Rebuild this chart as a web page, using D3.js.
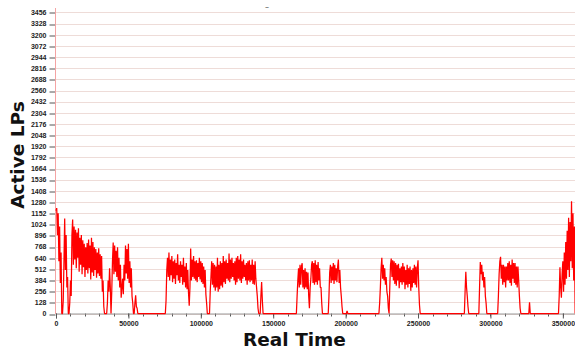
<!DOCTYPE html>
<html>
<head>
<meta charset="utf-8">
<script src="https://cdn.jsdelivr.net/npm/d3@7/dist/d3.min.js"></script>
<style>
  body { margin: 0; background: #fff; }
  svg { display: block; }
</style>
</head>
<body>
<svg id="chart" width="575" height="350"></svg>
<script>
// sample spacing of the series (real time units)
const step = 500;

// each burst of activity: start time and sampled active LP counts
const burstStart = [0, 35000, 75000, 166000, 188000, 200500, 222000, 282000, 292000, 305000, 326500, 347000];
const burstValues = [
  [1180, 1210, 900, 1150, 600, 1000, 350, 700, 0, 0, 150, 600, 1090, 500, 900, 300, 420, 0, 0, 120,
   380, 200, 900, 1080, 560, 1000, 620, 960, 520, 930, 640, 980, 480, 870, 560, 900, 450, 840, 530, 800,
   420, 760, 500, 810, 460, 850, 520, 780, 390, 870, 470, 820, 430, 760, 500, 740, 410, 700, 460, 750,
   430, 680, 400, 660, 250, 380, 80, 0],
  [0, 120, 380, 250, 520, 300, 0, 250, 600, 815, 450, 780, 480, 720, 420, 760, 380, 640, 300, 560,
   180, 300, 400, 220, 560, 380, 780, 460, 740, 400, 800, 350, 600, 300, 520, 200, 120, 0, 0, 120,
   210, 80, 60, 0],
  [0, 0, 150, 500, 640, 420, 700, 380, 620, 440, 660, 360, 600, 400, 620, 340, 580, 440, 680, 380,
   560, 350, 600, 420, 560, 330, 640, 360, 540, 300, 580, 280, 500, 240, 90, 300, 746, 380, 620, 420,
   660, 400, 600, 380, 610, 360, 580, 420, 640, 390, 600, 360, 580, 340, 540, 300, 500, 220, 120, 0,
   0, 0, 0, 250, 420, 600, 330, 580, 300, 560, 260, 540, 300, 640, 250, 560, 280, 600, 320, 580,
   300, 660, 360, 600, 340, 620, 400, 580, 380, 690, 360, 620, 400, 640, 420, 580, 380, 600, 330, 640,
   360, 660, 400, 620, 380, 680, 350, 600, 400, 620, 420, 560, 380, 580, 330, 600, 380, 610, 360, 560,
   380, 620, 340, 560, 330, 600, 400, 300, 200, 60, 0, 0, 0, 200, 360, 150, 0],
  [0, 200, 380, 520, 300, 560, 330, 540, 578, 300, 500, 280, 520, 300, 480, 280, 470, 200, 60, 300,
   400, 560, 600, 350, 580, 330, 610, 360, 560, 330, 590, 380, 520, 300, 300, 120, 0],
  [0, 200, 470, 560, 350, 540, 380, 580, 340, 560, 380, 520, 360, 540, 620, 350, 500, 300, 200, 80, 0],
  [0, 30, 0],
  [0, 0, 0, 120, 300, 520, 640, 400, 560, 380, 520, 330, 420, 250, 200, 60, 0, 300, 560, 630,
   420, 610, 380, 600, 340, 580, 320, 560, 380, 570, 290, 520, 360, 540, 330, 580, 360, 540, 280, 500,
   330, 560, 300, 520, 340, 540, 260, 500, 300, 520, 350, 560, 330, 540, 300, 520, 610, 300, 100, 0],
  [0, 250, 480, 300, 200, 80, 0],
  [0, 300, 590, 450, 560, 380, 480, 300, 420, 200, 120, 0],
  [0, 200, 450, 600, 650, 400, 560, 330, 560, 360, 540, 300, 540, 380, 580, 380, 600, 350, 560, 320,
   620, 400, 580, 350, 580, 330, 540, 300, 540, 380, 200, 60, 0],
  [0, 130, 0],
  [0, 200, 530, 300, 180, 450, 600, 250, 700, 330, 820, 400, 950, 500, 1100, 420, 1050, 600, 1290, 520,
   1150, 380, 1000, 0]
];

const yTicks = [0, 128, 256, 384, 512, 640, 768, 896, 1024, 1152, 1280, 1408, 1536, 1664, 1792, 1920,
  2048, 2176, 2304, 2432, 2560, 2688, 2816, 2944, 3072, 3200, 3328, 3456];
const xTicks = [0, 50000, 100000, 150000, 200000, 250000, 300000, 350000];
const xMinorTicks = d3.range(0, 360000, 10000);

const points = burstStart.flatMap((s, i) => burstValues[i].map((v, j) => [s + j * step, v]));

const svg = d3.select('#chart');

const x = d3.scaleLinear().domain([0, 358400]).range([56, 575]);
const y = d3.scaleLinear().domain([0, 3504]).range([313.5, 8.3]);

// horizontal grid
svg.append('g')
  .selectAll('line')
  .data(yTicks)
  .join('line')
  .attr('x1', 56).attr('x2', 575)
  .attr('y1', d => Math.round(y(d)) + 0.5)
  .attr('y2', d => Math.round(y(d)) + 0.5)
  .attr('stroke', '#eedcd8')
  .attr('stroke-width', 1);

// y axis
const yAxis = svg.append('g')
  .attr('transform', 'translate(55.5,0)')
  .call(d3.axisLeft(y).tickValues(yTicks).tickFormat(d3.format('d')).tickSize(6).tickPadding(3));
yAxis.select('.domain').remove();
yAxis.selectAll('.tick line').attr('stroke', '#555')
  .attr('transform', d => `translate(0,${Math.round(y(d)) + 0.5 - y(d)})`);
yAxis.selectAll('.tick text')
  .attr('fill', '#222')
  .style('font-family', 'Liberation Sans, Arial, sans-serif')
  .style('font-size', '7px')
  .style('font-weight', 'bold');

svg.append('line')
  .attr('x1', 55.5).attr('x2', 55.5)
  .attr('y1', 8).attr('y2', 314)
  .attr('stroke', '#f4a4a4')
  .attr('stroke-width', 1);

// x axis: minor ticks + labelled major ticks
const base = 313.5;
svg.append('g')
  .selectAll('line')
  .data(xMinorTicks)
  .join('line')
  .attr('x1', d => Math.round(x(d)) + 0.5)
  .attr('x2', d => Math.round(x(d)) + 0.5)
  .attr('y1', base).attr('y2', base + 3)
  .attr('stroke', '#555');

const xAxis = svg.append('g')
  .attr('transform', `translate(0,${base})`)
  .call(d3.axisBottom(x).tickValues(xTicks).tickFormat(d3.format('d')).tickSize(5).tickPadding(3));
xAxis.select('.domain').attr('stroke', '#999');
xAxis.selectAll('.tick line').attr('stroke', '#555');
xAxis.selectAll('.tick text')
  .attr('fill', '#222')
  .style('font-family', 'Liberation Sans, Arial, sans-serif')
  .style('font-size', '7px')
  .style('font-weight', 'bold');

// the series
const line = d3.line()
  .x(d => x(d[0]))
  .y(d => y(d[1]));

svg.append('path')
  .datum(points)
  .attr('d', line)
  .attr('fill', 'none')
  .attr('stroke', '#ff0000')
  .attr('stroke-width', 1.25)
  .attr('stroke-linejoin', 'bevel');

// titles
svg.append('text')
  .attr('x', 267).attr('y', 10)
  .attr('text-anchor', 'middle')
  .attr('fill', '#555')
  .style('font-family', 'DejaVu Sans, sans-serif')
  .style('font-size', '8px')
  .text('–');

svg.append('text')
  .attr('x', 294.5).attr('y', 346)
  .attr('text-anchor', 'middle')
  .attr('fill', '#111')
  .style('font-family', 'DejaVu Sans, sans-serif')
  .style('font-size', '18.5px')
  .style('font-weight', 'bold')
  .text('Real Time');

svg.append('text')
  .attr('transform', 'translate(24,155) rotate(-90)')
  .attr('text-anchor', 'middle')
  .attr('fill', '#111')
  .style('font-family', 'DejaVu Sans, sans-serif')
  .style('font-size', '18.5px')
  .style('font-weight', 'bold')
  .text('Active LPs');
</script>
</body>
</html>
